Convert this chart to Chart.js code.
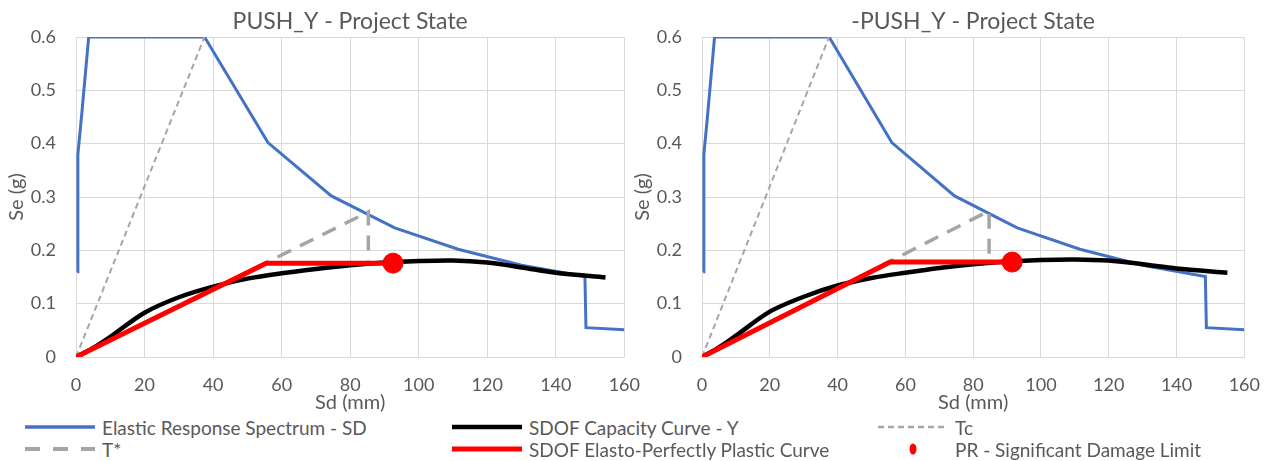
<!DOCTYPE html>
<html>
<head>
<meta charset="utf-8">
<script src="https://cdn.jsdelivr.net/npm/chart.js@4.4.1/dist/chart.umd.min.js"></script>
<style>
  html, body { margin: 0; padding: 0; background: #fff; }
  #wrap { position: relative; width: 1277px; height: 461px; overflow: hidden; font-family: Lato, sans-serif; color: #595959; }
  .box { position: absolute; top: 0; height: 415px; }
  .item { position: absolute; display: flex; align-items: center; height: 22px; font-size: 19px; white-space: nowrap; }
  .item svg { margin-right: 7px; }
</style>
</head>
<body>
<div id="wrap">
  <div class="box" style="left:0;width:657px"><canvas id="pushChart"></canvas></div>
  <div class="box" style="left:626px;width:651px"><canvas id="negPushChart"></canvas></div>
  <div id="legend"></div>
</div>
<script>
// axes
const xTickValues = [0, 20, 40, 60, 80, 100, 120, 140, 160];
const xTickLabels = ['0', '20', '40', '60', '80', '100', '120', '140', '160'];
const yTickValues = [0, 0.1, 0.2, 0.3, 0.4, 0.5, 0.6];
const yTickLabels = ['0', '0.1', '0.2', '0.3', '0.4', '0.5', '0.6'];

// elastic response spectrum (same for both directions)
const spectrumSd = [0.35, 0.55, 1.6, 3.7, 37.5, 56, 74.5, 93, 111.5, 130, 148.5, 148.8, 160];
const spectrumSe = [0.16, 0.38, 0.45, 0.6, 0.6, 0.402, 0.302, 0.242, 0.202, 0.172, 0.151, 0.055, 0.051];
const tcSd = [0, 37.5];
const tcSe = [0, 0.6];

// PUSH_Y
const pushCapSd = [0, 5, 10, 20, 30, 40, 50, 60, 70, 80, 90, 100, 110, 120, 130, 140, 154.5];
const pushCapSe = [0, 0.017, 0.038, 0.083, 0.112, 0.132, 0.147, 0.157, 0.165, 0.172, 0.177, 0.180, 0.181, 0.177, 0.168, 0.158, 0.149];
const pushEppSd = [0, 55.5, 92.5];
const pushEppSe = [0, 0.176, 0.176];
const pushTstarSd = [0, 85.3, 85.3];
const pushTstarSe = [0, 0.272, 0.176];
const pushPrSd = [92.5];
const pushPrSe = [0.176];

// -PUSH_Y
const negCapSd = [0, 5, 10, 20, 30, 40, 50, 60, 70, 80, 90, 100, 110, 120, 130, 140, 155];
const negCapSe = [0, 0.018, 0.040, 0.085, 0.113, 0.134, 0.148, 0.158, 0.167, 0.174, 0.179, 0.182, 0.183, 0.181, 0.174, 0.166, 0.158];
const negEppSd = [0, 55.5, 91.5];
const negEppSe = [0, 0.178, 0.178];
const negTstarSd = [0, 84.7, 84.7];
const negTstarSe = [0, 0.274, 0.178];
const negPrSd = [91.5];
const negPrSe = [0.178];

const FONT = 'Lato';
const TEXT = '#595959';
const GRID = '#D9D9D9';
const BLUE = '#4472C4';
const GREY = '#A5A5A5';
const RED = '#FF0000';

const pts = (xs, ys) => xs.map((x, i) => ({ x: x, y: ys[i] }));

const legendItems = [
  { label: 'Elastic Response Spectrum - SD', color: BLUE, width: 3.5, dash: null, x: 25, row: 0 },
  { label: 'SDOF Capacity Curve - Y', color: '#000000', width: 4.5, dash: null, x: 452, row: 0 },
  { label: 'Tc', color: GREY, width: 2.5, dash: '6 4', x: 878, row: 0 },
  { label: 'T*', color: GREY, width: 4, dash: '15 13', x: 25, row: 1 },
  { label: 'SDOF Elasto-Perfectly Plastic Curve', color: RED, width: 5, dash: null, x: 452, row: 1 },
  { label: 'PR - Significant Damage Limit', color: RED, dot: true, x: 878, row: 1 }
];

function lineSet(label, data, color, width, dash, order, tension) {
  return {
    label: label, data: data, showLine: true, borderColor: color, backgroundColor: color,
    borderWidth: width, borderDash: dash || [], pointRadius: 0, tension: tension || 0, order: order
  };
}

function makeChart(id, title, cap, epp, tstar, pr) {
  const ctx = document.getElementById(id);
  return new Chart(ctx, {
    type: 'scatter',
    data: {
      datasets: [
        lineSet('Elastic Response Spectrum - SD', pts(spectrumSd, spectrumSe), BLUE, 3, null, 6),
        lineSet('SDOF Capacity Curve - Y', cap, '#000000', 4.5, null, 5, 0.3),
        lineSet('Tc', pts(tcSd, tcSe), GREY, 2, [6, 4], 4),
        lineSet('T*', tstar, GREY, 3.5, [15, 10], 3),
        lineSet('SDOF Elasto-Perfectly Plastic Curve', epp, RED, 5, null, 2),
        {
          label: 'PR - Significant Damage Limit', data: pr, pointRadius: 10,
          pointBackgroundColor: RED, pointBorderColor: RED, order: 1
        }
      ]
    },
    options: {
      responsive: true,
      maintainAspectRatio: false,
      animation: false,
      layout: { padding: { left: 0, right: 27, top: 0, bottom: 0 } },
      plugins: {
        legend: { display: false },
        tooltip: { enabled: false },
        title: {
          display: true, text: title, fullSize: false, color: TEXT,
          font: { family: FONT, size: 23, weight: 'normal' },
          padding: { top: 7.5, bottom: 1.9 }
        }
      },
      scales: {
        x: {
          type: 'linear', min: 0, max: 160,
          afterBuildTicks: (s) => { s.ticks = xTickValues.map(v => ({ value: v })); },
          afterFit: (s) => { s.height = 58; },
          grid: { color: GRID, lineWidth: 1, drawTicks: false },
          border: { color: GRID },
          ticks: {
            padding: 17, color: TEXT, font: { family: FONT, size: 18 },
            callback: (v, i) => xTickLabels[i]
          },
          title: {
            display: true, text: 'Sd (mm)', color: TEXT,
            font: { family: FONT, size: 20 }, padding: { top: 0, bottom: 0 }
          }
        },
        y: {
          type: 'linear', min: 0, max: 0.6,
          afterBuildTicks: (s) => { s.ticks = yTickValues.map(v => ({ value: v })); },
          afterFit: (s) => { s.width = 76; },
          grid: { color: GRID, lineWidth: 1, drawTicks: false },
          border: { color: GRID },
          ticks: {
            padding: 20, color: TEXT, font: { family: FONT, size: 18 },
            callback: (v, i) => yTickLabels[i]
          },
          title: {
            display: true, text: 'Se (g)', color: TEXT,
            font: { family: FONT, size: 20 }, padding: { top: 5, bottom: 0 }
          }
        }
      }
    }
  });
}

makeChart('pushChart', 'PUSH_Y - Project State',
  pts(pushCapSd, pushCapSe), pts(pushEppSd, pushEppSe), pts(pushTstarSd, pushTstarSe), pts(pushPrSd, pushPrSe));
makeChart('negPushChart', '-PUSH_Y - Project State',
  pts(negCapSd, negCapSe), pts(negEppSd, negEppSe), pts(negTstarSd, negTstarSe), pts(negPrSd, negPrSe));

// shared legend below both charts
const legend = document.getElementById('legend');
const rowY = [416, 438];
legendItems.forEach(it => {
  const div = document.createElement('div');
  div.className = 'item';
  div.style.left = it.x + 'px';
  div.style.top = rowY[it.row] + 'px';
  let mark;
  if (it.dot) {
    mark = '<ellipse cx="35" cy="6" rx="3.5" ry="5.5" fill="' + it.color + '"/>';
  } else {
    mark = '<line x1="0" y1="6" x2="70" y2="6" stroke="' + it.color + '" stroke-width="' + it.width + '"' +
      (it.dash ? ' stroke-dasharray="' + it.dash + '"' : '') + '/>';
  }
  div.innerHTML = '<svg width="70" height="12">' + mark + '</svg><span>' + it.label + '</span>';
  legend.appendChild(div);
});
</script>
</body>
</html>
